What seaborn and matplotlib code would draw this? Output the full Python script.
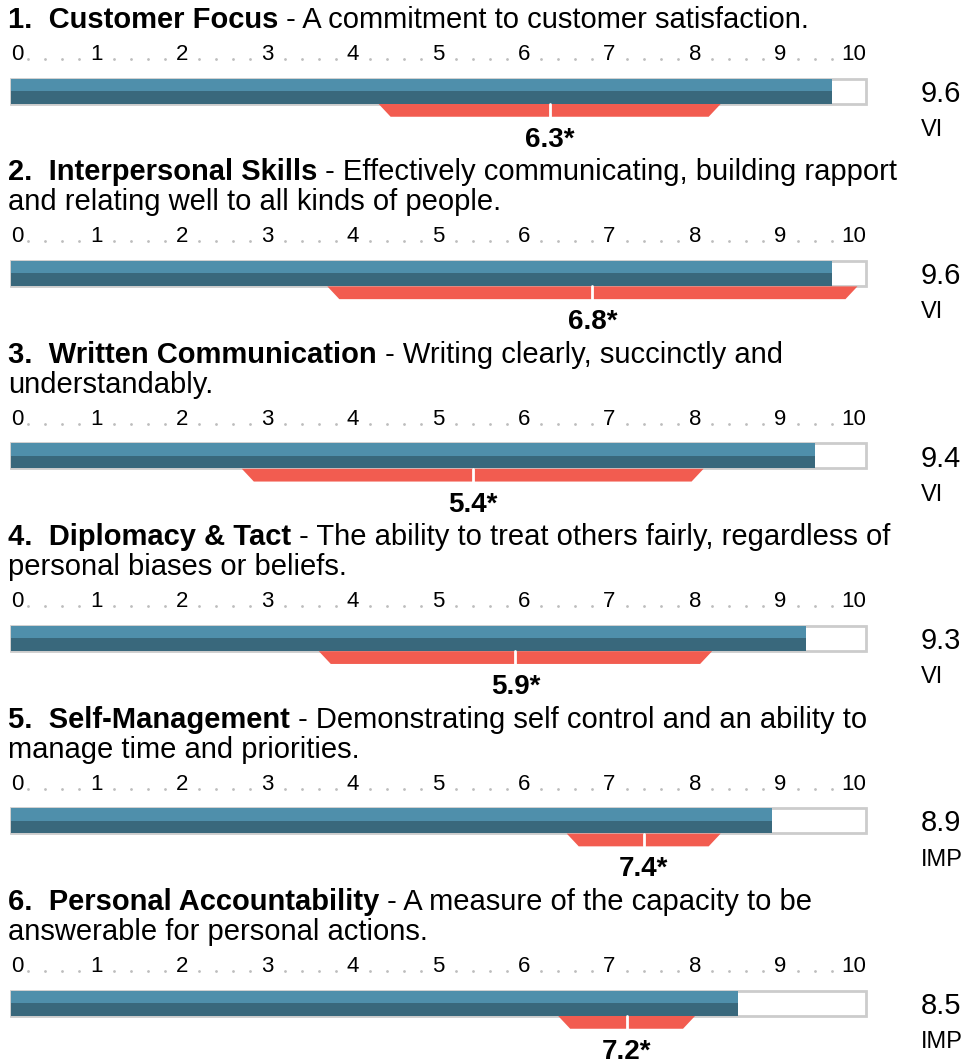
import matplotlib
matplotlib.use("Agg")
import matplotlib.pyplot as plt
from matplotlib.patches import Rectangle
import seaborn as sns
import numpy as np

# competency data
titles = ["1.  Customer Focus", "2.  Interpersonal Skills", "3.  Written Communication",
          "4.  Diplomacy & Tact", "5.  Self-Management", "6.  Personal Accountability"]
desc_first = [" - A commitment to customer satisfaction.",
              " - Effectively communicating, building rapport",
              " - Writing clearly, succinctly and",
              " - The ability to treat others fairly, regardless of",
              " - Demonstrating self control and an ability to",
              " - A measure of the capacity to be"]
desc_second = ["", "and relating well to all kinds of people.", "understandably.",
               "personal biases or beliefs.", "manage time and priorities.",
               "answerable for personal actions."]
scores = [9.6, 9.6, 9.4, 9.3, 8.9, 8.5]
ratings = ["VI", "VI", "VI", "VI", "IMP", "IMP"]
norm_mean = [6.3, 6.8, 5.4, 5.9, 7.4, 7.2]
norm_spread = [2.0, 3.1, 2.7, 2.3, 0.9, 0.8]
scale_ticks = list(range(11))

LIGHT = "#4f8fab"
DARK = "#39687c"
RED = "#f25c50"
GRAY = "#cccccc"

sns.set_theme(style="white")
plt.rcParams["font.family"] = ["Liberation Sans", "DejaVu Sans"]
plt.rcParams["text.color"] = "black"

W, H = 964, 1059
fig = plt.figure(figsize=(W / 100, H / 100), dpi=100)

def fx(px):
    return px / W

def fy(py):
    return 1 - py / H

UNIT = 12.5  # pixels per y data unit inside each bar axes
PITCH = 182.4

for i in range(len(titles)):
    B = 78 + PITCH * i  # top of the bar outline, in pixels

    ax = fig.add_axes([fx(11), fy(B - 0.75 + 40), fx(866) - fx(11), 40 / H])

    # title: bold name followed by the regular description
    first_base = B - 50 if desc_second[i] == "" else B - 80
    t = fig.text(fx(8), fy(first_base), titles[i], fontsize=21, fontweight="bold",
                 ha="left", va="baseline")
    ax.annotate(desc_first[i], xy=(1, 0), xycoords=t, ha="left", va="bottom",
                fontsize=21, annotation_clip=False)
    if desc_second[i]:
        fig.text(fx(8), fy(B - 50), desc_second[i], fontsize=21, ha="left", va="baseline")

    ax.add_patch(Rectangle((0, -0.5), 10, 2, facecolor="white", edgecolor=GRAY,
                           lw=2, zorder=0, clip_on=False))
    sns.barplot(x=[scores[i], scores[i]], y=["hi", "lo"], hue=["hi", "lo"],
                palette=[LIGHT, DARK], width=1.0, orient="h", saturation=1,
                linewidth=0, legend=False, ax=ax, zorder=2)

    m, sd = norm_mean[i], norm_spread[i]
    s = 0.14
    top, bot = 1.54, 2.56
    ax.fill([m - sd, m + sd, m + sd - s, m - sd + s], [top, top, bot, bot],
            color=RED, lw=0, clip_on=False, zorder=2)
    ax.plot([m, m], [top, bot], color="white", lw=2, zorder=3, clip_on=False)
    ax.text(m, 4.96, f"{m}*", ha="center", va="baseline", fontsize=20, fontweight="bold")

    # scale row
    for k in scale_ticks:
        ha = "left" if k == 0 else ("right" if k == 10 else "center")
        ax.text(k, -1.98, str(k), ha=ha, va="baseline", fontsize=16)
    dots = np.array([k + f for k in scale_ticks[:-1] for f in (0.2, 0.4, 0.6, 0.8)])
    dots = dots[dots < 9.7]
    ax.scatter(dots, np.full(len(dots), -2.06), s=4, color="#bdbdbd", clip_on=False,
               linewidths=0)

    # score and rating on the right
    ax.text(10.64, 1.36, f"{scores[i]}", ha="left", va="baseline", fontsize=21)
    ax.text(10.64, 4.1, ratings[i], ha="left", va="baseline", fontsize=17)

    ax.set_xlim(0, 10)
    ax.set_ylim(2.6, -0.6)
    ax.axis("off")

fig.savefig("out.png", dpi=100)
